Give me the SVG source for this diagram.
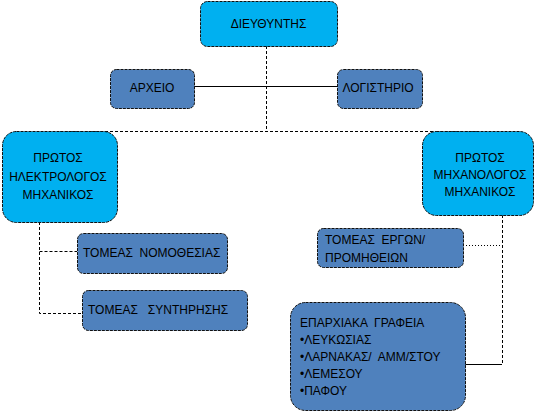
<svg xmlns="http://www.w3.org/2000/svg" width="537" height="412" viewBox="0 0 537 412">
<style>
.lb{fill:#00B0F0;stroke:#111;stroke-width:1;stroke-dasharray:3 1}
.db{fill:#4F81BD;stroke:#111;stroke-width:1;stroke-dasharray:3 1}
text{font-family:"Liberation Sans",Arial,sans-serif;font-size:12px;fill:#000;white-space:pre}
.c{text-anchor:middle}
.dash{fill:none;stroke:#000;stroke-width:1;stroke-dasharray:3 2}
.dot{fill:none;stroke:#000;stroke-width:1;stroke-dasharray:1 2}
.solid{fill:none;stroke:#000;stroke-width:1}
</style>
<rect width="537" height="412" fill="#fff"/>
<g id="connectors">
<path class="dash" d="M266.5 46V131.5"/>
<path class="solid" d="M194 86.5H337"/>
<path class="dash" d="M60 131.5H478"/>
<path class="dash" d="M39.5 222V313.5H82M39.5 251.5H77"/>
<path class="dash" d="M502.5 215V364"/>
<path class="dot" d="M463 245.5H502"/>
<path class="solid" d="M465 364.5H502"/>
</g>
<g id="director">
<rect class="lb" x="200.5" y="1.5" width="137" height="45" rx="7"/>
<text class="c" x="268.5" y="28">ΔΙΕΥΘΥΝΤΗΣ</text>
</g>
<g id="archive">
<rect class="db" x="110.5" y="69.5" width="84" height="39" rx="6"/>
<text class="c" x="152" y="92">ΑΡΧΕΙΟ</text>
</g>
<g id="accounting">
<rect class="db" x="337.5" y="69.5" width="85" height="39" rx="6"/>
<text class="c" x="378" y="92">ΛΟΓΙΣΤΗΡΙΟ</text>
</g>
<g id="electrical">
<rect class="lb" x="2.5" y="131.5" width="115" height="91" rx="14"/>
<text class="c" x="58" y="162">ΠΡΩΤΟΣ</text>
<text class="c" x="58" y="181">ΗΛΕΚΤΡΟΛΟΓΟΣ</text>
<text class="c" x="58" y="199">ΜΗΧΑΝΙΚΟΣ</text>
</g>
<g id="mechanical">
<rect class="lb" x="422.5" y="131.5" width="111" height="84" rx="14"/>
<text class="c" x="480" y="162">ΠΡΩΤΟΣ</text>
<text class="c" x="480" y="179">ΜΗΧΑΝΟΛΟΓΟΣ</text>
<text class="c" x="480" y="196">ΜΗΧΑΝΙΚΟΣ</text>
</g>
<g id="legislation">
<rect class="db" x="77.5" y="233.5" width="150" height="40" rx="6"/>
<text x="83" y="257">ΤΟΜΕΑΣ  ΝΟΜΟΘΕΣΙΑΣ</text>
</g>
<g id="maintenance">
<rect class="db" x="82.5" y="290.5" width="165" height="40" rx="6"/>
<text x="88" y="314">ΤΟΜΕΑΣ   ΣΥΝΤΗΡΗΣΗΣ</text>
</g>
<g id="works">
<rect class="db" x="317.5" y="228.5" width="146" height="39" rx="6"/>
<text x="325" y="244">ΤΟΜΕΑΣ  ΕΡΓΩΝ/</text>
<text x="325" y="262">ΠΡΟΜΗΘΕΙΩΝ</text>
</g>
<g id="district">
<rect class="db" x="290.5" y="302.5" width="175" height="108" rx="15"/>
<text x="300" y="327">ΕΠΑΡΧΙΑΚΑ  ΓΡΑΦΕΙΑ</text>
<text x="300" y="344">•ΛΕΥΚΩΣΙΑΣ</text>
<text x="300" y="361">•ΛΑΡΝΑΚΑΣ/  ΑΜΜ/ΣΤΟΥ</text>
<text x="300" y="378">•ΛΕΜΕΣΟΥ</text>
<text x="300" y="395">•ΠΑΦΟΥ</text>
</g>
</svg>
